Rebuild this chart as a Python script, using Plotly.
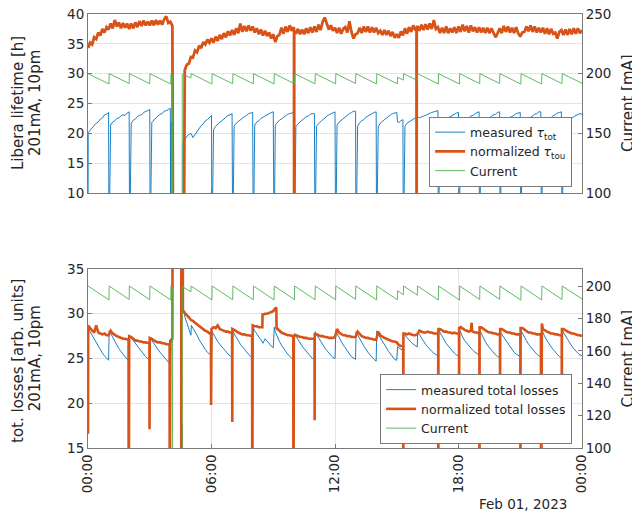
import plotly.graph_objects as go
import pandas as pd

START = pd.Timestamp("2023-02-01 00:00")
END = pd.Timestamp("2023-02-02 00:00")
STEP_H = 0.1  # logging interval of the sampled series (hours)

# ---------------- top panel: lifetime ----------------
tau_meas = [
    0.0, 20.5, 20.9, 21.2, 21.7, 21.9, 22.4, 22.6, 23.1, 23.2,
    23.5, 21.4, 21.9, 22.1, 22.5, 22.6, 22.9, 23.1, 23.0, 23.4,
    23.6, 21.7, 22.2, 22.4, 22.8, 23.0, 23.1, 23.5, 23.6, 23.8,
    24.0, 21.8, 22.3, 22.6, 22.9, 23.2, 23.3, 23.7, 23.8, 24.0,
    24.2, 21.9, None, None, None, None, None, 18.9, 19.5, 19.8,
    20.0, 19.3, 19.8, 20.4, 20.7, 21.3, 21.6, 22.1, 22.3, 22.7,
    23.0, 20.6, 21.2, 21.5, 21.9, 22.1, 22.5, 22.7, 23.0, 23.1,
    23.3, 21.2, 21.7, 22.0, 22.2, 22.6, 22.8, 23.0, 23.3, 23.4,
    23.5, 21.4, 21.9, 22.1, 22.5, 22.7, 23.0, 23.1, 23.4, 23.5,
    23.6, 21.4, 21.8, 22.2, 22.4, 22.7, 22.9, 23.2, 23.3, 23.4,
    23.5, 21.1, 21.6, 21.9, 22.2, 22.4, 22.8, 22.9, 23.2, 23.3,
    23.3, 21.2, 21.6, 22.0, 22.3, 22.5, 22.9, 23.1, 23.3, 23.5,
    23.6, 21.4, 21.9, 22.2, 22.5, 22.8, 23.0, 23.3, 23.5, 23.7,
    23.7, 21.2, 21.8, 22.1, 22.3, 22.7, 22.9, 23.2, 23.4, 23.5,
    23.6, 21.1, 21.7, 22.0, 22.3, 22.6, 22.8, 23.1, 23.3, 23.4,
    23.5, 21.8, 22.1, 22.3, 21.2, 21.7, 21.9, 22.2, 22.4, 22.6,
    22.8, 22.6, 22.8, 22.9, 23.0, 23.2, 23.3, 23.5, 23.6, 23.7,
    23.8, 21.3, 21.8, 22.0, 22.4, 22.6, 22.9, 23.1, 23.3, 23.4,
    23.5, 21.2, 21.7, 22.1, 22.3, 22.6, 22.9, 23.0, 23.3, 23.5,
    23.6, 21.3, 21.8, 22.0, 22.4, 22.5, 22.9, 23.1, 23.2, 23.5,
    23.6, 21.2, 21.7, 22.1, 22.3, 22.7, 22.8, 23.1, 23.3, 23.4,
    23.5, 21.4, 21.8, 22.2, 22.4, 22.7, 22.9, 23.2, 23.3, 23.6,
    23.6, 21.3, 21.9, 22.1, 22.5, 22.6, 23.0, 23.1, 23.4, 23.5,
    23.6, 21.3, 21.7, 22.0, 22.3, 22.6, 22.8, 23.0, 23.1, 23.3,
    23.2,
]
tau_meas_ev_t = [0.01, 1.02, 2.02, 3.02, 4.02, 4.04, 4.11, 4.61, 4.62, 6.02, 7.03, 8.03, 9.04, 10.03,
                 11.03, 12.03, 13.02, 14.02, 15.04, 15.32, 17.02, 18.03, 19.02, 20.02, 21.03, 22.03, 23.03]
tau_meas_ev_v = [20.1, 0.0, 0.0, 0.0, 0.0, 21.7, 0.0, 0.0, 18.6, 0.0, 0.0, 0.0, 0.0, 0.0,
                 0.0, 0.0, 0.0, 0.0, 21.9, 0.0, 0.0, 0.0, 0.0, 0.0, 0.0, 0.0, 0.0]

tau_norm = [
    34.3, 35.2, 34.9, 36.1, 35.8, 36.9, 36.4, 37.5, 36.9, 37.8,
    37.4, 38.4, 37.6, 39.0, 37.9, 38.6, 37.6, 38.5, 37.7, 38.4,
    37.5, 38.4, 37.6, 38.6, 37.8, 38.8, 38.0, 38.9, 38.1, 38.7,
    38.1, 38.9, 38.1, 39.0, 38.2, 38.9, 38.2, 39.1, 39.6, 38.5,
    38.7, 38.0, None, None, None, None, None, 30.6, 31.5, 31.7,
    32.8, 32.7, 33.9, 33.6, 34.7, 34.3, 35.3, 34.9, 35.7, 35.2,
    35.9, 35.2, 36.2, 35.5, 36.5, 35.8, 36.8, 36.1, 37.1, 36.4,
    37.3, 36.5, 37.6, 36.8, 38.4, 37.0, 38.0, 37.1, 38.1, 37.2,
    37.9, 36.9, 37.6, 36.6, 37.4, 36.4, 37.2, 36.3, 36.9, 35.9,
    36.6, 35.3, 36.3, 36.5, 37.7, 36.7, 37.9, 37.0, 38.1, 37.2,
    37.8, 36.7, 37.5, 36.6, 37.4, 36.6, 37.6, 36.8, 37.8, 36.9,
    37.9, 37.0, 38.2, 37.3, 38.7, 39.4, 38.2, 37.4, 38.1, 37.2,
    37.7, 36.8, 37.7, 36.7, 37.5, 37.8, 36.9, 38.8, 37.0, 35.9,
    36.6, 36.8, 37.7, 36.8, 37.9, 37.0, 37.9, 36.9, 37.8, 36.9,
    37.7, 36.8, 37.2, 36.5, 37.3, 36.5, 37.2, 36.3, 37.0, 36.0,
    36.6, 36.0, 37.1, 36.4, 37.6, 36.7, 37.8, 37.0, 38.1, 37.3,
    38.0, 37.2, 38.2, 37.3, 38.3, 37.4, 38.4, 37.5, 39.0, 37.5,
    37.8, 36.8, 37.7, 36.8, 37.9, 36.8, 37.6, 36.9, 37.8, 36.8,
    37.9, 37.0, 38.2, 37.1, 38.0, 36.9, 38.1, 37.1, 37.8, 36.9,
    37.8, 36.9, 37.7, 36.8, 37.7, 36.8, 37.6, 36.7, 36.1, 36.8,
    37.6, 36.8, 38.0, 37.0, 37.9, 36.9, 37.7, 36.8, 37.8, 36.8,
    36.2, 36.9, 37.0, 37.9, 37.1, 38.1, 37.0, 37.9, 36.9, 37.7,
    36.9, 37.7, 36.7, 37.6, 36.6, 37.5, 36.7, 36.9, 35.9, 37.0,
    37.3, 36.5, 37.4, 36.5, 37.5, 36.6, 37.6, 36.7, 37.6, 36.8,
    37.3,
]
tau_norm_ev_t = [4.13, 4.66, 4.67, 10.01, 10.015, 10.02, 15.96, 15.965, 15.97]
tau_norm_ev_v = [0.0, 0.0, 30.0, 37.3, 0.0, 37.1, 37.8, 0.0, 37.7]

# ---------------- bottom panel: losses ----------------
loss_meas = [
    28.4, 28.0, 27.6, 27.1, 26.7, 26.3, 25.9, 25.6, 25.3, 25.0,
    24.8, 27.8, 27.3, 26.8, 26.4, 26.1, 25.8, 25.5, 25.2, 24.9,
    24.8, 27.3, 27.0, 26.6, 26.3, 26.0, 25.7, 25.5, 25.2, 25.0,
    24.9, 27.0, 26.7, 26.3, 26.0, 25.7, 25.4, 25.1, 24.8, 24.6,
    24.5, 26.9, None, None, None, None, None, 29.7, 29.0, 28.3,
    27.6, 28.4, 28.0, 27.6, 27.1, 26.7, 26.4, 26.0, 25.7, 25.5,
    25.3, 27.7, 27.3, 26.9, 26.6, 26.3, 26.0, 25.8, 25.5, 25.3,
    25.2, 27.8, 27.4, 27.0, 26.6, 26.3, 26.0, 25.7, 25.4, 25.2,
    25.1, 28.1, 27.7, 27.4, 27.1, 26.7, 27.2, 26.9, 26.6, 26.4,
    26.2, 28.0, 27.4, 26.9, 26.5, 26.1, 25.8, 25.5, 25.2, 25.0,
    24.9, 27.5, 27.1, 26.7, 26.4, 26.1, 25.8, 25.5, 25.2, 25.0,
    24.9, 27.7, 27.3, 26.9, 26.5, 26.2, 25.9, 25.6, 25.3, 25.1,
    25.0, 27.8, 27.3, 26.9, 26.5, 26.2, 25.8, 25.5, 25.2, 25.0,
    24.9, 27.6, 27.2, 26.8, 26.4, 26.0, 25.7, 25.4, 25.1, 24.9,
    24.7, 27.7, 27.3, 26.9, 26.5, 26.1, 25.8, 25.5, 25.2, 24.9,
    24.8, 26.2, 26.0, 25.9, 27.6, 27.3, 27.0, 26.8, 26.6, 26.4,
    26.3, 27.7, 27.3, 26.9, 26.6, 26.3, 26.0, 25.8, 25.6, 25.4,
    25.3, 27.9, 27.5, 27.1, 26.7, 26.4, 26.1, 25.8, 25.6, 25.4,
    25.3, 27.9, 27.4, 27.0, 26.7, 26.4, 26.1, 25.9, 25.7, 25.5,
    25.4, 27.8, 27.3, 26.9, 26.5, 26.2, 25.9, 25.6, 25.4, 25.2,
    25.1, 27.7, 27.3, 26.9, 26.6, 26.3, 26.0, 25.7, 25.5, 25.3,
    25.2, 27.8, 27.4, 27.0, 26.6, 26.3, 26.0, 25.7, 25.5, 25.3,
    25.2, 27.9, 27.4, 27.0, 26.6, 26.3, 26.0, 25.7, 25.4, 25.2,
    25.1, 27.9, 27.5, 27.1, 26.7, 26.4, 26.1, 25.8, 25.6, 25.4,
    25.3,
]
loss_meas_ev_t = [1.03, 2.02, 3.02, 4.03, 4.12, 4.57, 4.58, 4.63, 5.02, 6.03, 7.04, 8.04, 9.05, 10.04,
                  11.04, 12.04, 13.02, 14.03, 15.04, 15.33, 16.01, 17.03, 18.05, 19.04, 20.01, 21.04,
                  22.05, 23.04]
loss_meas_ev_v = [28.1, 27.6, 27.3, 26.8, 40.0, 0.0, 17.7, 30.5, 28.7, 28.0, 28.0, 28.4, 28.5, 27.8,
                  28.0, 28.1, 28.0, 28.1, 26.3, 27.8, 27.9, 28.2, 28.2, 28.1, 28.0, 28.1,
                  28.2, 28.2]

loss_norm = [
    16.6, 28.4, 28.2, 27.9, 28.7, 27.9, 27.8, 27.7, 27.8, 27.6,
    27.6, 28.1, 27.8, 27.6, 27.5, 27.4, 27.3, 27.2, 27.2, 27.1,
    27.5, 27.4, 27.2, 27.0, 27.0, 26.9, 26.9, 26.8, 26.8, 26.7,
    27.3, 27.2, 27.0, 26.9, 26.8, 26.8, 26.7, 26.7, 26.6, 26.6,
    27.0, 27.2, None, None, None, None, 60.0, 30.1, 29.9, 29.6,
    29.3, 29.2, 29.0, 28.8, 28.7, 28.5, 28.3, 28.1, 28.0, 27.8,
    28.3, 28.5, 28.4, 28.7, 28.3, 28.2, 28.1, 28.0, 28.0, 27.9,
    27.9, 28.2, 28.0, 27.9, 27.8, 27.7, 27.7, 27.6, 27.6, 27.5,
    28.7, 28.6, 28.6, 28.5, 28.5, 29.9, 30.0, 30.0, 30.1, 30.2,
    30.3, 30.6, 28.3, 28.1, 27.9, 27.8, 27.7, 27.6, 27.6, 27.5,
    27.5, 27.6, 27.5, 27.4, 27.4, 27.3, 27.3, 27.2, 27.2, 27.2,
    27.2, 27.7, 27.6, 27.5, 27.5, 27.4, 27.4, 27.3, 27.3, 27.3,
    27.4, 28.3, 27.9, 27.7, 27.6, 27.6, 27.5, 27.5, 27.4, 27.4,
    27.4, 28.0, 27.7, 27.5, 27.4, 27.3, 27.3, 27.2, 27.2, 27.1,
    27.1, 28.0, 27.6, 27.4, 27.3, 27.2, 27.1, 27.0, 26.9, 26.9,
    26.8, 26.5, 26.4, 26.4, 27.8, 27.7, 27.8, 27.7, 27.6, 27.6,
    27.7, 28.1, 28.0, 27.9, 27.9, 28.0, 27.9, 27.9, 27.8, 27.8,
    27.8, 28.3, 28.1, 28.0, 28.0, 27.9, 27.9, 27.8, 27.9, 27.8,
    27.8, 28.5, 28.3, 28.2, 28.1, 28.0, 28.1, 28.0, 27.9, 27.9,
    27.8, 28.5, 28.3, 28.1, 28.0, 27.9, 27.9, 27.8, 27.8, 27.7,
    27.7, 28.3, 28.1, 28.0, 27.9, 27.9, 27.8, 27.8, 27.7, 27.7,
    27.7, 28.4, 28.2, 28.0, 27.9, 27.9, 27.8, 27.8, 27.7, 27.7,
    27.7, 28.3, 28.1, 28.0, 27.9, 27.8, 27.8, 27.7, 27.7, 27.6,
    27.6, 28.3, 28.1, 28.0, 27.9, 27.8, 27.8, 27.7, 27.6, 27.6,
    27.5,
]
loss_norm_ev_t = [0.01, 1.97, 1.98, 1.99, 2.985, 2.99, 2.995, 3.965, 3.97, 3.975, 4.12, 4.53, 4.535, 4.61,
                  5.975, 5.98, 5.985, 7.005, 7.01, 7.015, 7.975, 7.98, 7.985, 8.47, 8.48, 9.15, 9.16,
                  9.975, 9.98, 9.985, 11.005, 11.01, 11.015, 15.315, 15.32, 15.325, 17.015, 17.02, 17.025,
                  18.025, 18.03, 18.035, 18.64, 18.66, 19.015, 19.02, 19.025, 20.015, 20.02, 20.025,
                  21.005, 21.01, 21.015, 22.005, 22.01, 22.015, 22.05, 23.015, 23.02, 23.025]
loss_norm_ev_v = [28.7, 27.1, 0.0, 27.4, 26.7, 17.1, 27.2, 26.6, 0.0, 27.0, 60.0, 0.0, 60.0, 30.4,
                  27.7, 19.8, 28.2, 27.9, 17.9, 28.3, 27.5, 0.0, 28.6, 28.5, 29.9, 30.7, 28.4,
                  27.5, 0.0, 27.5, 27.2, 18.1, 27.7, 26.3, 0.0, 27.8, 27.8, 0.0, 28.3,
                  27.8, 18.0, 28.4, 29.0, 28.1, 27.8, 0.0, 28.5, 27.7, 18.0, 28.3,
                  27.7, 0.0, 28.4, 27.7, 0.0, 28.4, 28.9, 27.6, 18.0, 28.3]

# ---------------- beam current (both panels) ----------------
cur_t = [0.0, 1.02, 1.03, 2.0, 2.01, 3.0, 3.01, 4.02, 4.03, 4.1, 4.12, 4.57, 4.58, 5.0, 5.01,
         6.02, 6.03, 7.03, 7.04, 8.03, 8.04, 9.04, 9.05, 10.03, 10.04, 11.03, 11.04, 12.03, 12.04,
         13.0, 13.01, 14.02, 14.03, 15.03, 15.04, 15.32, 15.33, 16.0, 16.01, 17.02, 17.03,
         18.05, 18.06, 19.03, 19.04, 20.0, 20.01, 21.03, 21.04, 22.04, 22.05, 23.03, 23.04, 24.0]
cur_v = [200.0, 191.4, 200.0, 191.7, 200.0, 191.6, 200.0, 191.4, 200.0, 199.4, 0.0, 0.0, 199.6, 196.4, 200.0,
         191.4, 200.0, 191.5, 200.0, 191.5, 200.0, 191.4, 200.0, 191.6, 200.0, 191.5, 200.0, 191.5, 200.0,
         191.8, 200.0, 191.4, 200.0, 191.5, 197.0, 194.6, 200.0, 194.3, 200.0, 191.4, 200.0,
         191.3, 200.0, 191.7, 200.0, 191.8, 200.0, 191.3, 200.0, 191.4, 200.0, 191.7, 200.0, 192.0]

# ---------------- styling ----------------
BLUE = "#0072BD"
ORANGE = "#D95319"
GREEN = "#4DB34D"
FONT = "DejaVu Sans"
TXT = "#262626"
FRAME = "#7a7a7a"
GRID = "#e4e4e4"

FIG_W, FIG_H = 632, 512
M_L, M_R, M_T, M_B = 88, 50, 14, 64


def to_time(hours):
    return [START + pd.Timedelta(hours=h) for h in hours]


def series(vals, ev_t, ev_v):
    pts = [(i * STEP_H, v) for i, v in enumerate(vals)] + list(zip(ev_t, ev_v))
    pts.sort(key=lambda p: p[0])
    return to_time([p[0] for p in pts]), [p[1] for p in pts]


fig = go.Figure()

x, y = series(tau_meas, tau_meas_ev_t, tau_meas_ev_v)
fig.add_trace(go.Scatter(x=x, y=y, mode="lines", line=dict(color=BLUE, width=0.9),
                         name="measured <i>τ</i><sub>tot</sub>", xaxis="x", yaxis="y", legend="legend"))
x, y = series(tau_norm, tau_norm_ev_t, tau_norm_ev_v)
fig.add_trace(go.Scatter(x=x, y=y, mode="lines", line=dict(color=ORANGE, width=2.8),
                         name="normalized <i>τ</i><sub>tou</sub>", xaxis="x", yaxis="y", legend="legend"))
fig.add_trace(go.Scatter(x=to_time(cur_t), y=cur_v, mode="lines", line=dict(color=GREEN, width=0.9),
                         name="Current", xaxis="x", yaxis="y2", legend="legend"))

x, y = series(loss_meas, loss_meas_ev_t, loss_meas_ev_v)
fig.add_trace(go.Scatter(x=x, y=y, mode="lines", line=dict(color=BLUE, width=0.9),
                         name="measured total losses", xaxis="x2", yaxis="y3", legend="legend2"))
x, y = series(loss_norm, loss_norm_ev_t, loss_norm_ev_v)
fig.add_trace(go.Scatter(x=x, y=y, mode="lines", line=dict(color=ORANGE, width=2.6),
                         name="normalized total losses", xaxis="x2", yaxis="y3", legend="legend2"))
fig.add_trace(go.Scatter(x=to_time(cur_t), y=cur_v, mode="lines", line=dict(color=GREEN, width=0.9),
                         name="Current", xaxis="x2", yaxis="y4", legend="legend2"))

tickfont = dict(family=FONT, size=13.5, color=TXT)
common_axis = dict(showline=True, linecolor=FRAME, linewidth=1, ticks="inside", ticklen=4,
                   tickcolor=FRAME, tickfont=tickfont, zeroline=False, automargin=False,
                   ticklabeloverflow="allow")

top_dom = [(448 - 193) / 434, 1.0]
bot_dom = [0.0, (448 - 269) / 434]
xrange = [START, END]

fig.update_layout(
    width=FIG_W, height=FIG_H,
    margin=dict(l=M_L, r=M_R, t=M_T, b=M_B),
    paper_bgcolor="white", plot_bgcolor="white",
    font=dict(family=FONT, color=TXT),
    showlegend=True,
    xaxis=dict(common_axis, type="date", range=xrange, domain=[0, 1], anchor="y", mirror=True,
               showgrid=False, showticklabels=False, tick0=START, dtick=6 * 3600 * 1000),
    yaxis=dict(common_axis, range=[10, 40], dtick=5, domain=top_dom, anchor="x",
               showgrid=True, gridcolor=GRID, gridwidth=1),
    yaxis2=dict(common_axis, range=[100, 250], dtick=50, overlaying="y", side="right",
                anchor="x", showgrid=False),
    xaxis2=dict(common_axis, type="date", range=xrange, domain=[0, 1], anchor="y3", mirror=True,
                showgrid=True, gridcolor=GRID, tick0=START, dtick=6 * 3600 * 1000,
                tickformat="%H:%M", tickangle=-90),
    yaxis3=dict(common_axis, range=[15, 35], dtick=5, domain=bot_dom, anchor="x2",
                showgrid=True, gridcolor=GRID, gridwidth=1),
    yaxis4=dict(common_axis, range=[100, 210.5], dtick=20, overlaying="y3", side="right",
                anchor="x2", showgrid=False),
    legend=dict(x=0.98, y=(448 - 186.5) / 434, xanchor="right", yanchor="bottom",
                bgcolor="white", bordercolor=FRAME, borderwidth=1,
                font=dict(family=FONT, size=12.5, color=TXT), tracegroupgap=0),
    legend2=dict(x=0.98, y=(448 - 444.0) / 434, xanchor="right", yanchor="bottom",
                 bgcolor="white", bordercolor=FRAME, borderwidth=1,
                 font=dict(family=FONT, size=12.5, color=TXT), tracegroupgap=0),
)


def px_x(px):
    return (px - M_L) / (FIG_W - M_L - M_R)


def px_y(py):
    return (FIG_H - M_B - py) / (FIG_H - M_T - M_B)


labels = [
    ("Libera lifetime [h]", 17.5, 103.5, 15),
    ("201mA, 10pm", 34.5, 103.5, 15),
    ("tot. losses [arb. units]", 17.5, 361.5, 15),
    ("201mA, 10pm", 34.5, 358.8, 15),
    ("Current [mA]", 627.5, 103.5, 15),
    ("Current [mA]", 627.5, 359.0, 15),
]
for text, px, py, size in labels:
    fig.add_annotation(text=text, x=px_x(px), y=px_y(py), xref="paper", yref="paper",
                       showarrow=False, textangle=-90, xanchor="center", yanchor="middle",
                       font=dict(family=FONT, size=size, color=TXT))

fig.add_annotation(text="Feb 01, 2023", x=px_x(522.8), y=px_y(504), xref="paper", yref="paper",
                   showarrow=False, xanchor="center", yanchor="middle",
                   font=dict(family=FONT, size=13.5, color=TXT))

# remove the browser's default 8px body margin so the figure fills the window exactly
fig.write_html("out.html", config={"displayModeBar": False},
               post_script="document.body.style.margin='0px';")
